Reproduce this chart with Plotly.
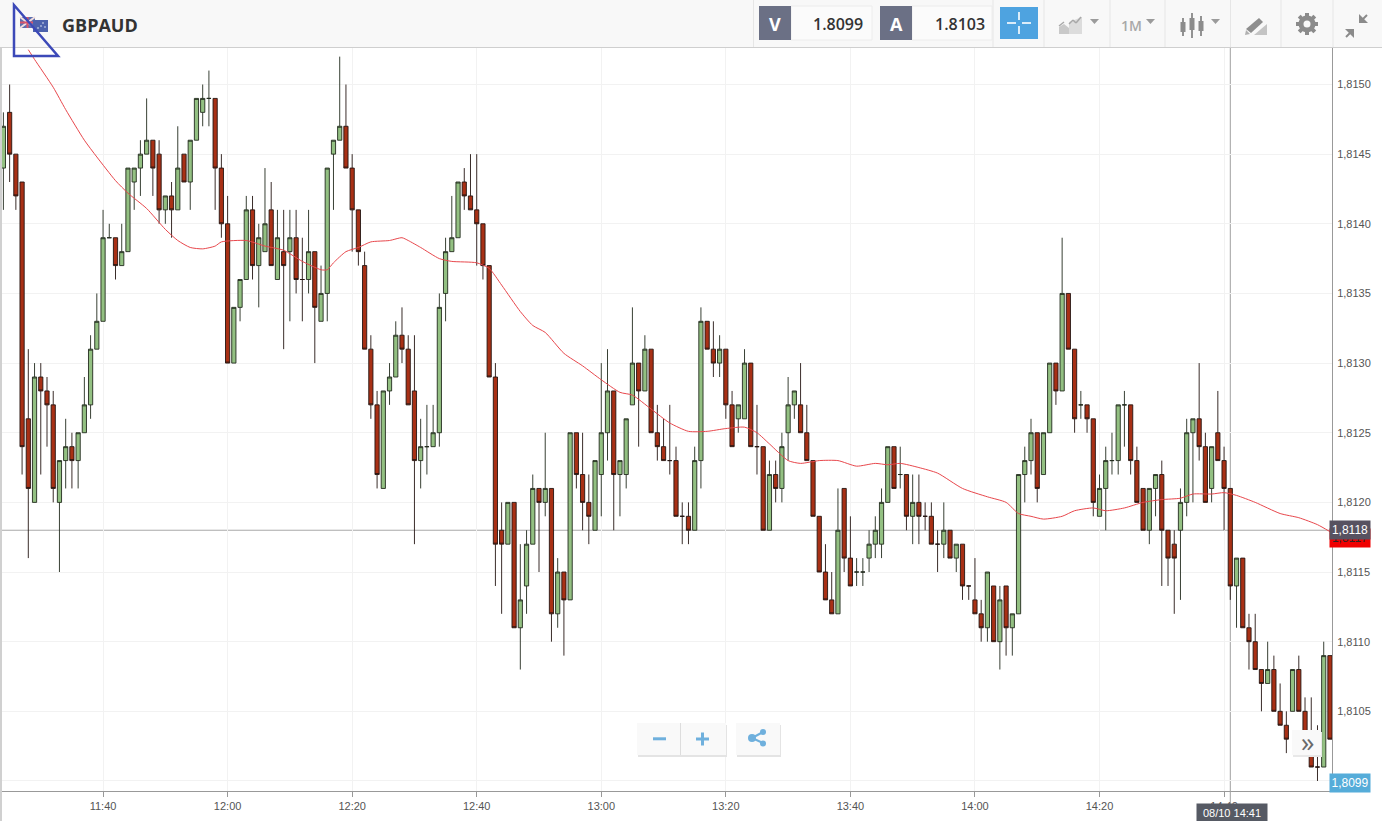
import pandas as pd
import plotly.graph_objects as go

# all prices are in pips above 1.8100
BASE = 1.81
first_bar = "2018-08-10 11:24"

opens = [44,48,45,43,26,20,29,28,27,20, 23,24,23,25,27,31,33,39,39,37,
         38,43,44,45,46,45,41,42,41,45, 43,46,48,49,49,44,40,30,34,36,
         41,37,38,41,36,38,38,39,36,36, 38,33,35,45,46,47,44,41,37,31,
         27,21,28,29,32,31,28,23,24,24, 25,35,38,39,43,42,41,40,37,29,
         18,17,20,11,14,17,21,20,21,12, 15,13,25,22,20,18,22,25,28,22,
         22,27,30,28,31,25,24,23,23,19, 19,18,23,33,31,30,31,27,26,26,
         30,24,24,18,22,21,25,27,27,25, 23,19,15,13,12,21,16,15,15,16,
         17,17,20,24,22,22,19,20,19,19, 17,17,18,16,17,14,13,12,11,14,
         10,14,11,12,22,23,25,22,25,30, 28,35,31,27,27,26,19,21,23,23,
         27,27,23,21,18,21,22,18,17,18, 20,25,26,24,21,25,23,21,14,16,
         11,10,8,7,8,5,4,5,8,5, 3,1,1,9]
closes = [47,45,42,24,21,29,28,27,21,23, 24,23,25,27,31,33,39,39,37,38,
          44,44,45,46,44,41,42,41,44,43, 46,49,49,49,44,40,30,34,36,41,
          37,39,40,37,39,37,39,36,36,38, 34,35,44,46,47,44,41,38,31,27,
          22,28,29,32,31,27,23,24,24,25, 34,38,39,43,42,41,40,37,29,17,
          17,20,11,13,17,21,20,21,12,15, 13,25,22,20,19,23,25,28,22,23,
          26,30,28,31,25,24,23,23,19,19, 18,23,33,31,30,31,27,24,27,30,
          24,24,18,22,21,24,27,28,25,23, 19,15,13,12,18,16,14,15,15,17,
          18,20,24,21,22,19,20,19,19,17, 17,18,16,17,14,14,12,11,15,10,
          13,11,12,22,23,25,21,25,30,28, 35,31,26,27,26,20,21,23,23,27,
          27,23,20,18,21,22,18,16,16,20, 25,26,24,20,24,23,21,14,16,11,
          10,8,7,8,5,4,3,8,5,3, 1,1,9,3]
highs = [48,50,45,43,31,30,30,29,28,23, 26,25,25,29,32,35,41,40,39,40,
         44,44,46,49,46,46,42,43,47,45, 46,49,50,51,49,45,42,34,36,42,
         42,40,44,43,41,41,41,41,39,41, 38,37,44,46,52,50,45,41,38,32,
         28,28,30,33,34,32,32,26,27,27, 35,39,42,43,44,45,45,40,37,30,
         20,20,20,17,18,22,21,25,21,16, 15,25,25,25,22,23,30,31,28,23,
         26,34,30,32,31,27,26,27,24,20, 20,24,34,33,33,32,31,28,27,31,
         30,27,24,23,23,25,29,28,30,27, 23,19,17,15,21,21,19,16,16,18,
         19,21,24,24,24,22,22,22,20,20, 18,20,18,17,17,14,16,13,15,14,
         14,14,12,22,24,26,25,25,30,30, 39,35,31,28,27,26,22,24,25,27,
         28,27,24,21,21,22,23,18,18,21, 26,26,30,25,24,28,24,21,16,16,
         12,12,8,10,9,7,5,8,9,6, 6,4,10,9]
lows = [41,43,41,22,16,20,22,24,20,15, 21,21,21,25,26,31,33,39,36,37,
        38,41,42,45,42,40,40,39,41,43, 41,46,47,47,41,39,30,30,33,36,
        36,34,38,37,36,31,33,35,33,35, 30,33,33,41,46,44,38,37,31,26,
        21,21,27,29,30,27,17,21,22,24, 24,33,38,39,41,41,37,36,29,14,
        12,17,11,8,12,17,15,19,10,11, 9,13,21,18,17,18,19,23,18,19,
        21,27,24,28,25,23,23,22,19,17, 17,18,21,31,29,29,26,24,25,26,
        24,22,18,18,20,20,23,26,25,23, 19,15,13,12,12,15,14,14,14,15,
        16,16,20,21,21,18,17,17,18,17, 15,16,16,15,13,13,12,10,10,10,
        8,9,9,12,20,22,20,22,25,27, 28,31,25,26,25,19,19,18,22,22,
        24,22,20,18,17,19,14,14,12,13, 19,20,23,20,20,23,18,13,11,11,
        8,8,5,7,5,4,2,5,5,3, 1,0,1,3]

# moving average, read at these bars (minutes after the first bar)
ma_bars = [4,5,8,10,13,15,18,20,23,26,28,30,32,34,35,39,42,45,48,51,52,53,55,57,59,
           62,64,65,67,70,72,76,78,80,83,85,87,90,93,96,99,101,104,107,110,113,116,
           119,121,123,126,128,131,134,137,140,142,144,147,150,154,158,161,163,165,
           167,170,172,175,177,180,183,186,189,191,194,196,198,201,205,208,211,213]
ma_pips = [52.5,51.8,49.8,48.2,46.0,44.8,43.1,42.2,41.1,39.6,38.8,38.3,38.2,38.4,38.7,
           38.8,38.4,38.1,37.3,36.7,36.7,37.2,38.0,38.3,38.7,38.8,39.0,38.8,38.3,37.5,
           37.3,37.2,36.8,35.6,33.7,32.7,32.2,30.7,29.8,28.8,27.9,27.7,26.7,25.7,25.1,
           25.1,25.3,25.4,25.0,24.2,23.0,22.8,23.0,23.0,22.6,22.8,22.7,22.8,22.5,22.1,
           21.0,20.4,20.0,19.2,19.0,18.8,19.0,19.4,19.6,19.4,19.6,20.0,20.2,20.3,20.6,
           20.6,20.7,20.5,20.0,19.2,18.9,18.4,17.9]

y_ticks = [1.81, 1.8105, 1.811, 1.8115, 1.812, 1.8125, 1.813, 1.8135, 1.814, 1.8145, 1.815]
# 1,8100 is hidden behind the bid tag in the reference
y_labels = ["", "1,8105", "1,8110", "1,8115", "1,8120", "1,8125", "1,8130", "1,8135", "1,8140", "1,8145", "1,8150"]

cursor_time = "2018-08-10 14:41"
cursor_price = 1.8118


def price(pips):
    return [round(BASE + p / 10000, 5) for p in pips]


times = pd.date_range(first_bar, periods=len(opens), freq="min")
ma_times = [times[b] for b in ma_bars]

W, H = 1382, 821
L, R, T, B = 2, 50, 48, 30


def px(x):
    return (x - L) / (W - L - R)


def py(y):
    return (H - B - y) / (H - T - B)


fig = go.Figure()

# Candles
fig.add_trace(go.Candlestick(x=times,
                open=price(opens),
                high=price(highs),
                low=price(lows),
                close=price(closes),
                increasing=dict(fillcolor="#93c082", line=dict(color="#232b1e", width=0.9)),
                decreasing=dict(fillcolor="#a83015", line=dict(color="#241512", width=0.9)),
                name="GBPAUD"))

# MA line
fig.add_trace(go.Scatter(x=ma_times, y=price(ma_pips), mode="lines",
                line=dict(color="#e8474c", width=1, shape="spline", smoothing=0.6),
                hoverinfo="skip", name="MA"))

shapes = []
notes = []


def box(x0, y0, x1, y1, fill, line=None, layer="above"):
    shapes.append(dict(type="rect", xref="paper", yref="paper", layer=layer,
                       x0=px(x0), x1=px(x1), y0=py(y0), y1=py(y1), fillcolor=fill,
                       line=dict(color=line or fill, width=1 if line else 0)))


def seg(x0, y0, x1, y1, color, width=1):
    shapes.append(dict(type="line", xref="paper", yref="paper", layer="above",
                       x0=px(x0), x1=px(x1), y0=py(y0), y1=py(y1),
                       line=dict(color=color, width=width)))


def poly(points, fill=None, line=None, width=1):
    path = "M " + " L ".join(f"{px(a):.5f},{py(b):.5f}" for a, b in points) + " Z"
    shapes.append(dict(type="path", xref="paper", yref="paper", layer="above", path=path,
                       fillcolor=fill or "rgba(0,0,0,0)",
                       line=dict(color=line or "rgba(0,0,0,0)", width=width)))


def dot(x, y, r, color):
    shapes.append(dict(type="circle", xref="paper", yref="paper", layer="above",
                       x0=px(x - r), x1=px(x + r), y0=py(y - r), y1=py(y + r),
                       fillcolor=color, line=dict(width=0)))


def label(x, y, text, size=11, color="#555", family="Liberation Sans", weight=None, **kw):
    notes.append(dict(xref="paper", yref="paper", x=px(x), y=py(y), text=text, showarrow=False,
                      xanchor="center", yanchor="middle",
                      font=dict(size=size, color=color, family=family, weight=weight), **kw))


# crosshair sits under the candles
shapes.append(dict(type="line", xref="paper", yref="y", layer="below", x0=0, x1=1,
                   y0=cursor_price, y1=cursor_price, line=dict(color="#a8a8a8", width=1)))
shapes.append(dict(type="line", xref="x", yref="paper", layer="below", x0=cursor_time, x1=cursor_time,
                   y0=0, y1=1, line=dict(color="#a0a0a0", width=1)))
seg(1230.3, 791, 1230.3, 805, "#a0a0a0")

# left edge and header
box(0, 48, 2, 821, "#d0d0d0")
box(0, 0, 1382, 47, "#f8f8f8")
seg(0, 47.5, 1382, 47.5, "#cfcfcf")
for x in [753.5, 993, 1044, 1110, 1165, 1230.5, 1281, 1333]:
    seg(x, 0, x, 47, "#e6e6e6")

# flags
box(20, 17, 35, 28, "#5a6fb0")
seg(20, 17, 35, 28, "#f2dede", 2)
seg(20, 28, 35, 17, "#f2dede", 2)
seg(27.5, 17, 27.5, 28, "#d9546a", 2)
seg(20, 22.5, 35, 22.5, "#d9546a", 2)
box(33, 20, 48, 32, "#4c62ac")
for a, b in [(38, 28), (43, 23), (45, 27), (41, 26)]:
    dot(a, b, 0.8, "#e8ecf8")

poly([(14, 5), (14, 56), (58, 56)], line="#3c49b8", width=2.5)

label(99.5, 24.5, "GBPAUD", size=18, color="#333333", family="Open Sans", weight=700)

# bid / ask boxes
box(791, 6, 872, 40, "#fbfbfb", "#ececec")
box(759, 6, 791, 40, "#6b7085")
label(775, 24, "V", size=18, color="white", family="Open Sans", weight=700)
label(838, 24, "1.8099", size=16, color="#333333", family="Open Sans", weight=600)
box(912, 6, 992, 40, "#fbfbfb", "#ececec")
box(880, 6, 912, 40, "#6b7085")
label(896, 24, "A", size=18, color="white", family="Open Sans", weight=700)
label(960, 24, "1.8103", size=16, color="#333333", family="Open Sans", weight=600)

# crosshair button
box(1000, 7, 1038, 39, "#4ea3e0")
for a, b, c, d in [(1007, 23, 1016, 23), (1022, 23, 1031, 23), (1019, 12, 1019, 20), (1019, 26, 1019, 34)]:
    seg(a, b, c, d, "white", 1.6)

# chart type icon
poly([(1059, 34), (1059, 27), (1064, 24), (1069, 28), (1069, 34)], fill="#c9c9c9")
poly([(1069, 34), (1069, 22), (1082, 17), (1082, 34)], fill="#dcdcdc")
seg(1059, 26, 1064, 22, "#a8a8a8", 1.5)
seg(1069, 24, 1073, 20, "#a8a8a8", 1.5)
seg(1073, 20, 1076, 23, "#a8a8a8", 1.5)
seg(1076, 23, 1081, 17, "#a8a8a8", 1.5)
poly([(1090, 19), (1099, 19), (1094.5, 24)], fill="#9b9b9b")

# timeframe
label(1131, 25, "1M", size=14, color="#a8a8a8", family="Open Sans", weight=600)
poly([(1146, 19), (1155, 19), (1150.5, 24)], fill="#9b9b9b")

# candle icon
for x, a, b, c, d in [(1183, 18, 36, 22, 32), (1192, 13, 38, 18, 30), (1201, 16, 36, 21, 31)]:
    seg(x, a, x, b, "#707070", 1.5)
    box(x - 2.5, c, x + 2.5, d, "#8c8c8c")
poly([(1211, 19), (1220, 19), (1215.5, 24)], fill="#9b9b9b")

# drawing tool icon
poly([(1246, 29), (1259, 18), (1263, 22), (1251, 33)], fill="#8e8e8e")
poly([(1245, 35), (1246, 30), (1250, 34)], fill="#b0b0b0")
poly([(1254, 35), (1267, 24), (1267, 35)], fill="#c4c4c4")

# gear
for a, b, c, d in [(1307, 13, 1307, 35), (1296, 24, 1318, 24), (1299.2, 16.2, 1314.8, 31.8), (1299.2, 31.8, 1314.8, 16.2)]:
    seg(a, b, c, d, "#8b8b8b", 4)
dot(1307, 24, 8.5, "#8b8b8b")
dot(1307, 24, 3.5, "#f8f8f8")

# collapse arrows
poly([(1359, 14), (1359, 23), (1368, 23)], fill="#8b8b8b")
poly([(1345, 29), (1354, 29), (1354, 38)], fill="#8b8b8b")
seg(1361, 21, 1367, 15, "#8b8b8b", 2)
seg(1346, 37, 1352, 31, "#8b8b8b", 2)

# zoom and share buttons
box(638, 725, 727, 757, "#e4e4e4")
box(637, 723, 726, 755, "#f9f9f9")
seg(680.5, 723, 680.5, 755, "#dddddd")
box(653, 737.3, 666, 740.3, "#6fb0dd")
box(696, 737.5, 709, 740.5, "#6fb0dd")
box(701, 732.5, 704, 745.5, "#6fb0dd")
box(737, 725, 781, 757, "#e4e4e4")
box(736, 723, 780, 755, "#f9f9f9")
seg(752, 738, 763, 732, "#6fb0dd", 2)
seg(752, 738, 763, 743, "#6fb0dd", 2)
dot(752, 738, 4, "#6fb0dd")
dot(763, 732, 3, "#6fb0dd")
dot(763, 743.5, 3, "#6fb0dd")

# scroll button
box(1293, 732, 1322, 757, "#e8e8e8")
box(1292, 730, 1321, 755, "#f9f9f9")
label(1307, 741, "\u00bb", size=27, color="#6a6a6a", family="Open Sans")

# price and time tags
label(1350, 538, "1,8117", size=12, color="#332222", bgcolor="#f00000", width=38, height=16)
label(1350, 529.5, "1,8118", size=12, color="white", bgcolor="#575260", width=38, height=16)
label(1350, 783, "1,8099", size=12, color="white", bgcolor="#55acd9", width=38, height=16)
label(1232, 812.5, "08/10 14:41", size=11, color="white", bgcolor="#565a64", width=68, height=16)

fig.update_layout(
    width=W, height=H,
    margin=dict(l=L, r=R, t=T, b=B, autoexpand=False),
    paper_bgcolor="white", plot_bgcolor="white",
    showlegend=False,
    boxgap=0.1, boxgroupgap=0.25,
    separators=",.",
    font=dict(family="Liberation Sans", size=11, color="#555"),
    shapes=shapes, annotations=notes)

# X-Axes
fig.update_xaxes(
    type="date",
    rangeslider_visible=False,
    range=["2018-08-10 11:23:46.5", "2018-08-10 14:57:19.8"],
    tick0="2018-08-10 11:40", dtick=20 * 60000, tickformat="%H:%M",
    ticks="outside", ticklen=5, tickcolor="#999999",
    showline=True, linecolor="#999999", linewidth=1,
    showgrid=True, gridcolor="#f2f2f2", gridwidth=1, zeroline=False)

# Y-Axes
fig.update_yaxes(
    side="right",
    range=[1.809928, 1.815262],
    tickvals=y_ticks, ticktext=y_labels,
    ticks="", ticklabelstandoff=2,
    showline=True, linecolor="#999999", linewidth=1,
    showgrid=True, gridcolor="#f2f2f2", gridwidth=1, zeroline=False)

fig.write_html("out.html", config=dict(displayModeBar=False),
               post_script="document.body.style.margin='0';document.body.style.overflow='hidden';")
